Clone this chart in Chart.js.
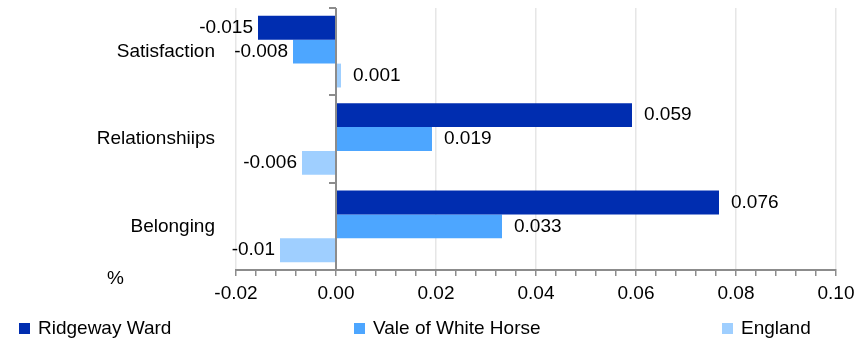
<!DOCTYPE html>
<html>
<head>
<meta charset="utf-8">
<script src="https://cdn.jsdelivr.net/npm/chart.js@4"></script>
<style>
  html, body { margin: 0; padding: 0; background: #fff; }
  #wrap { width: 866px; height: 339px; }
</style>
</head>
<body>
<div id="wrap"><canvas id="grafico" width="866" height="339"></canvas></div>
<script>
// Dados do gráfico
const categorias = ['Satisfaction', 'Relationshiips', 'Belonging'];
const nomesSeries = ['Ridgeway Ward', 'Vale of White Horse', 'England'];
const ridgeway = [-0.0156, 0.0592, 0.0766];
const vale = [-0.0086, 0.0192, 0.0332];
const england = [0.001, -0.0068, -0.0112];
const rotulosRidgeway = ['-0.015', '0.059', '0.076'];
const rotulosVale = ['-0.008', '0.019', '0.033'];
const rotulosEngland = ['0.001', '-0.006', '-0.01'];
const ticksPrincipais = [-0.02, 0, 0.02, 0.04, 0.06, 0.08, 0.1];

const cores = ['#002db0', '#4da6ff', '#9fcfff'];
const familia = '"Liberation Sans", Arial, sans-serif';
const fonte = '19px ' + familia;
const cinzaEixo = '#8c8c8c';

function ehPrincipal(v) {
    return ticksPrincipais.some(t => Math.abs(t - v) < 1e-6);
}

// Plugin: rótulos das barras, linha do zero, "%" e legenda
const extras = {
    id: 'extras',
    afterDatasetsDraw(chart) {
        const ctx = chart.ctx;
        ctx.save();
        ctx.font = fonte;
        ctx.fillStyle = '#000';
        ctx.textBaseline = 'middle';
        chart.data.datasets.forEach((ds, i) => {
            const meta = chart.getDatasetMeta(i);
            meta.data.forEach((bar, j) => {
                const v = ds.data[j];
                if (v >= 0) {
                    ctx.textAlign = 'left';
                    ctx.fillText(ds.rotulos[j], bar.x + 12, bar.y);
                } else {
                    ctx.textAlign = 'right';
                    ctx.fillText(ds.rotulos[j], bar.x - 5, bar.y);
                }
            });
        });

        // eixo vertical no zero, com marcas entre categorias
        const xs = chart.scales.x;
        const x0 = Math.round(xs.getPixelForValue(0));
        const area = chart.chartArea;
        ctx.strokeStyle = cinzaEixo;
        ctx.lineWidth = 2;
        ctx.beginPath();
        ctx.moveTo(x0, area.top);
        ctx.lineTo(x0, area.bottom);
        const passo = (area.bottom - area.top) / categorias.length;
        for (let k = 0; k <= categorias.length; k++) {
            const y = Math.round(area.top + k * passo);
            ctx.moveTo(x0 - 7, y);
            ctx.lineTo(x0, y);
        }
        ctx.stroke();
        ctx.restore();
    },
    afterDraw(chart) {
        const ctx = chart.ctx;
        ctx.save();
        ctx.font = fonte;
        ctx.fillStyle = '#000';
        ctx.textBaseline = 'middle';
        ctx.textAlign = 'left';
        ctx.fillText('%', 107, 279);

        const posicoes = [19, 354, 722];
        chart.data.datasets.forEach((ds, i) => {
            ctx.fillStyle = ds.backgroundColor;
            ctx.fillRect(posicoes[i], 323, 11, 11);
            ctx.fillStyle = '#000';
            ctx.fillText(ds.label, posicoes[i] + 19, 329);
        });
        ctx.restore();
    }
};

const dadosSeries = [ridgeway, vale, england];
const rotulosSeries = [rotulosRidgeway, rotulosVale, rotulosEngland];

new Chart(document.getElementById('grafico'), {
    type: 'bar',
    data: {
        labels: categorias,
        datasets: nomesSeries.map((nome, i) => ({
            label: nome,
            data: dadosSeries[i],
            rotulos: rotulosSeries[i],
            backgroundColor: cores[i],
            borderWidth: 0,
            categoryPercentage: 0.82,
            barPercentage: 1.0
        }))
    },
    options: {
        indexAxis: 'y',
        responsive: false,
        animation: false,
        layout: { padding: { top: 8, right: 30, bottom: 0, left: 0 } },
        plugins: {
            legend: { display: false },
            tooltip: { enabled: false }
        },
        scales: {
            x: {
                min: -0.02,
                max: 0.1,
                afterFit(scale) {
                    scale.height = 69;
                    scale.paddingLeft = 0;
                    scale.paddingRight = 0;
                },
                afterBuildTicks(scale) {
                    const t = [];
                    for (let i = 0; i <= 30; i++) t.push({ value: -0.02 + i * 0.004 });
                    scale.ticks = t;
                },
                ticks: {
                    autoSkip: false,
                    maxRotation: 0,
                    padding: 6,
                    color: '#000',
                    font: { family: familia, size: 19 },
                    callback: (v) => ehPrincipal(v) ? v.toFixed(2) : ''
                },
                grid: {
                    color: (c) => ehPrincipal(c.tick.value) ? '#e6e6e6' : 'rgba(0,0,0,0)',
                    lineWidth: 1.5,
                    drawTicks: true,
                    tickLength: 6,
                    tickColor: cinzaEixo,
                    tickWidth: 1.5
                },
                border: { color: cinzaEixo, width: 2 }
            },
            y: {
                afterFit(scale) {
                    scale.width = 236;
                    scale.paddingTop = 0;
                    scale.paddingBottom = 0;
                },
                ticks: {
                    padding: 21,
                    color: '#000',
                    font: { family: familia, size: 19 }
                },
                grid: { display: false, drawTicks: false },
                border: { display: false }
            }
        }
    },
    plugins: [extras]
});
</script>
</body>
</html>
